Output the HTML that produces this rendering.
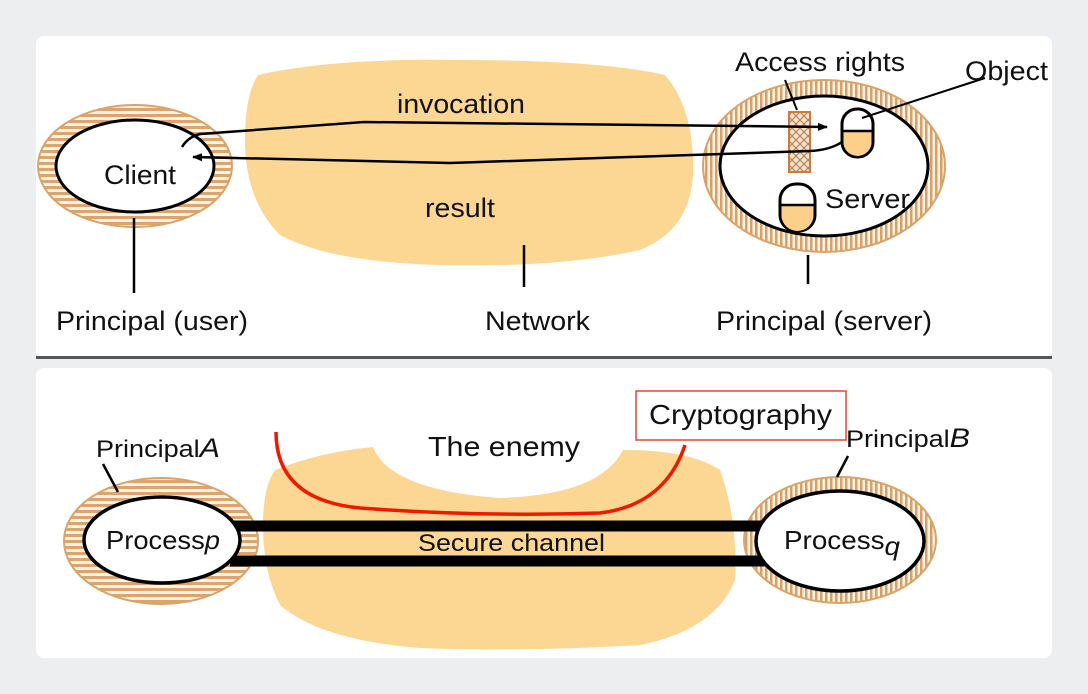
<!DOCTYPE html>
<html><head><style>
html,body{margin:0;padding:0;width:1088px;height:694px;background:#eceef0;overflow:hidden}
svg{display:block}
text{font-family:"Liberation Sans",Arial,sans-serif;fill:#111}
</style></head><body>
<svg width="1088" height="694" viewBox="0 0 1088 694">
<defs>
<pattern id="hs" width="6" height="6" patternUnits="userSpaceOnUse"><rect width="6" height="6" fill="#fbf3e6"/><rect width="6" height="3" fill="#dba56d"/></pattern>
<pattern id="vs" width="5" height="6" patternUnits="userSpaceOnUse"><rect width="5" height="6" fill="#fbf3e6"/><rect width="2.5" height="6" fill="#d9a066"/></pattern>
<pattern id="xh" width="8" height="8" patternUnits="userSpaceOnUse"><rect width="8" height="8" fill="#f6e2cc"/><path d="M0 0L8 8M8 0L0 8" stroke="#b07a50" stroke-width="1"/></pattern>
<marker id="ar" markerUnits="userSpaceOnUse" markerWidth="10" markerHeight="10" refX="9" refY="5" orient="auto"><path d="M0 1L10 5L0 9Z" fill="#000"/></marker>
</defs>
<rect x="36" y="36" width="1016" height="322" rx="8" fill="#fff"/>
<rect x="36" y="356" width="1016" height="3" fill="#555"/>
<rect x="36" y="368" width="1016" height="290" rx="8" fill="#fff"/>

<path d="M258 75 Q330 58 460 60 Q600 60 665 75 Q695 110 693 175 Q690 230 640 250 Q560 268 440 265 Q330 262 280 235 Q245 200 245 140 Q245 95 258 75Z" fill="#fcd793"/>
<ellipse cx="135" cy="166" rx="97" ry="61" fill="url(#hs)" stroke="#d9a36a" stroke-width="2"/>
<ellipse cx="135" cy="166" rx="79" ry="46" fill="#fff" stroke="#000" stroke-width="3"/>
<text x="104" y="184" font-size="27" textLength="72" lengthAdjust="spacingAndGlyphs">Client</text>
<ellipse cx="824" cy="166" rx="121" ry="86" fill="url(#vs)" stroke="#d9a36a" stroke-width="2"/>
<ellipse cx="824" cy="166" rx="104" ry="70" fill="#fff" stroke="#000" stroke-width="3"/>
<rect x="789" y="112" width="21" height="60" fill="url(#xh)" stroke="#d07a3a" stroke-width="2"/>
<rect x="842" y="109" width="31" height="48" rx="15" fill="#fff" stroke="#000" stroke-width="3"/>
<path d="M843.5 131 H871.5 V142 A14 14 0 0 1 843.5 142Z" fill="#fcd08a"/>
<line x1="843" y1="131" x2="872" y2="131" stroke="#000" stroke-width="2.5"/>
<rect x="780" y="184" width="35" height="47" rx="16" fill="#fff" stroke="#000" stroke-width="3"/>
<path d="M781.5 205 H813.5 V215 A16 16 0 0 1 781.5 215Z" fill="#fcd08a"/>
<line x1="781" y1="205" x2="814" y2="205" stroke="#000" stroke-width="2.5"/>
<text x="825" y="208" font-size="27" textLength="85" lengthAdjust="spacingAndGlyphs">Server</text>
<path d="M182 147 Q188 137 200 134 L364 122 L827 127" fill="none" stroke="#000" stroke-width="2.5" marker-end="url(#ar)"/>
<path d="M842 142 Q830 150 810 151 L450 163 L193 157" fill="none" stroke="#000" stroke-width="2.5" marker-end="url(#ar)"/>
<line x1="785" y1="80" x2="797" y2="110" stroke="#000" stroke-width="2"/>
<line x1="862" y1="118" x2="985" y2="78" stroke="#000" stroke-width="2"/>
<text x="397" y="113" font-size="27" textLength="128" lengthAdjust="spacingAndGlyphs">invocation</text>
<text x="425" y="217" font-size="27" textLength="70" lengthAdjust="spacingAndGlyphs">result</text>
<text x="735" y="71" font-size="27" textLength="170" lengthAdjust="spacingAndGlyphs">Access rights</text>
<text x="965" y="80" font-size="27" textLength="83" lengthAdjust="spacingAndGlyphs">Object</text>
<line x1="134" y1="218" x2="134" y2="293" stroke="#000" stroke-width="2.5"/>
<line x1="524" y1="245" x2="524" y2="287" stroke="#000" stroke-width="2.5"/>
<line x1="808" y1="255" x2="808" y2="284" stroke="#000" stroke-width="2.5"/>
<text x="56" y="330" font-size="27" textLength="192" lengthAdjust="spacingAndGlyphs">Principal (user)</text>
<text x="485" y="330" font-size="27" textLength="105" lengthAdjust="spacingAndGlyphs">Network</text>
<text x="716" y="330" font-size="27" textLength="216" lengthAdjust="spacingAndGlyphs">Principal (server)</text>

<path d="M275 470 Q320 452 373 447 Q390 490 500 498 Q600 495 623 450 Q690 450 720 470 Q738 520 735 580 Q715 630 640 645 Q520 652 420 648 Q320 640 280 605 Q262 570 263 520 Q264 485 275 470Z" fill="#fcd793"/>
<path d="M276 432 Q276 500 360 508 Q480 517 600 513 Q665 505 685 445" fill="none" stroke="#ee1a00" stroke-width="3.5"/>
<text x="428" y="456" font-size="28" textLength="152" lengthAdjust="spacingAndGlyphs">The enemy</text>
<rect x="636" y="391" width="210" height="49" fill="#fff" stroke="#dd4a30" stroke-width="1.5"/>
<text x="649" y="424" font-size="28" textLength="183" lengthAdjust="spacingAndGlyphs">Cryptography</text>
<ellipse cx="161" cy="541" rx="97" ry="63" fill="url(#hs)" stroke="#d9a36a" stroke-width="2"/>
<line x1="103" y1="464" x2="118" y2="492" stroke="#000" stroke-width="2.5"/>
<ellipse cx="840" cy="540" rx="96" ry="63" fill="url(#vs)" stroke="#d9a36a" stroke-width="2"/>
<line x1="848" y1="456" x2="837" y2="477" stroke="#000" stroke-width="2.5"/>
<line x1="230" y1="526" x2="765" y2="526" stroke="#000" stroke-width="11"/>
<line x1="230" y1="561" x2="765" y2="561" stroke="#000" stroke-width="11"/>
<ellipse cx="162" cy="540" rx="78" ry="43" fill="#fff" stroke="#000" stroke-width="3.5"/>
<ellipse cx="840" cy="541" rx="84" ry="50" fill="#fff" stroke="#000" stroke-width="3.5"/>
<text x="106" y="549" font-size="26" textLength="114" lengthAdjust="spacingAndGlyphs">Process<tspan font-style="italic">p</tspan></text>
<text x="784" y="549" font-size="26" textLength="116" lengthAdjust="spacingAndGlyphs">Process<tspan font-style="italic" dy="6">q</tspan></text>
<text x="418" y="551" font-size="24" textLength="187" lengthAdjust="spacingAndGlyphs">Secure channel</text>
<text x="96" y="457" font-size="24" textLength="124" lengthAdjust="spacingAndGlyphs">Principal<tspan font-style="italic" font-size="27">A</tspan></text>
<text x="846" y="447" font-size="24" textLength="124" lengthAdjust="spacingAndGlyphs">Principal<tspan font-style="italic" font-size="27">B</tspan></text>
</svg>
</body></html>
